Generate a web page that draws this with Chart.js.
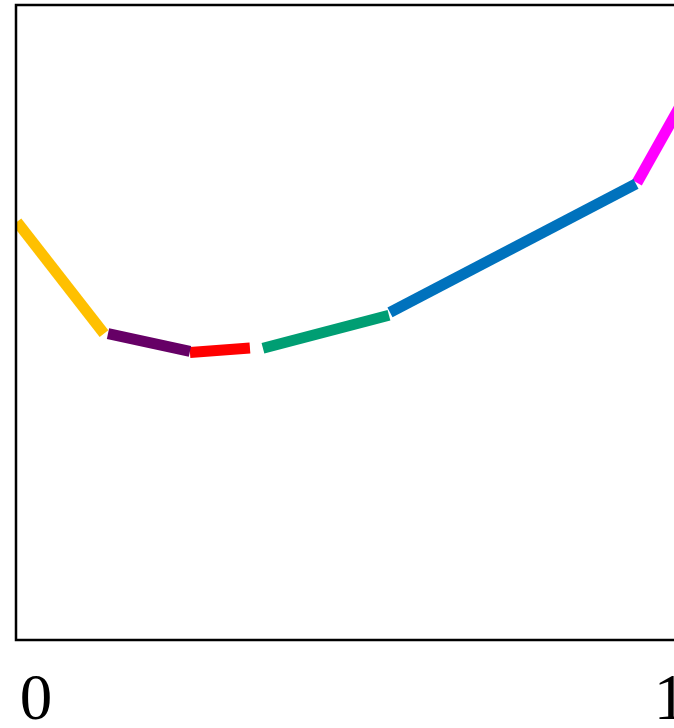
<!DOCTYPE html>
<html>
<head>
<meta charset="utf-8">
<script src="https://cdn.jsdelivr.net/npm/chart.js@4.4.1/dist/chart.umd.min.js"></script>
<style>
  html, body { margin: 0; padding: 0; background: #fff; overflow: hidden; }
  canvas { display: block; }
</style>
</head>
<body>
<canvas id="c" width="700" height="728" style="width:700px;height:728px"></canvas>
<script>
// Piecewise path: each stretch is its own coloured segment
const segmentColors = ['#FFC000', '#660066', '#FF0000', '#009E73', '#0072BD', '#FF00FF'];
const xStart = [-0.030, 0.1136, 0.2429, 0.3580, 0.5584, 0.9480];
const yStart = [ 0.6585, 0.4823, 0.4527, 0.4595, 0.5161, 0.7200];
const xEnd   = [ 0.1073, 0.2429, 0.3375, 0.5568, 0.9464, 1.0400];
const yEnd   = [ 0.4823, 0.4544, 0.4598, 0.5114, 0.7183, 0.8836];
const tickValues = [0, 1];

const X_MIN = -0.0315, X_MAX = 1.0474;
const Y_MIN = 0, Y_MAX = 1;

const datasets = segmentColors.map((color, i) => ({
  data: [{ x: xStart[i], y: yStart[i] }, { x: xEnd[i], y: yEnd[i] }],
  borderColor: color,
  borderWidth: 11,
  borderCapStyle: 'butt',
  pointRadius: 0,
  fill: false,
  tension: 0,
  clip: 0
}));

// Frame around the plotting area
const frame = {
  id: 'frame',
  afterDatasetsDraw(chart) {
    const { ctx, chartArea: a } = chart;
    ctx.save();
    ctx.strokeStyle = '#000';
    ctx.lineWidth = 2.5;
    ctx.strokeRect(a.left, a.top, a.right - a.left, a.bottom - a.top);
    ctx.restore();
  }
};

new Chart(document.getElementById('c'), {
  type: 'line',
  data: { datasets },
  options: {
    responsive: false,
    animation: false,
    layout: { padding: { left: 16, top: 5, right: 0, bottom: 0 } },
    plugins: { legend: { display: false }, tooltip: { enabled: false } },
    scales: {
      x: {
        type: 'linear',
        min: X_MIN,
        max: X_MAX,
        afterBuildTicks: s => { s.ticks = tickValues.map(v => ({ value: v })); },
        afterFit: s => { s.height = 88; s.paddingLeft = 0; s.paddingRight = 0; },
        grid: { display: false, drawTicks: true, tickLength: 23 },
        border: { display: false },
        ticks: {
          color: '#000',
          padding: 0,
          maxRotation: 0,
          autoSkip: false,
          font: { family: '"Liberation Serif", "Times New Roman", serif', size: 65 },
          callback: v => String(v)
        }
      },
      y: {
        display: false,
        min: Y_MIN,
        max: Y_MAX
      }
    }
  },
  plugins: [frame]
});
</script>
</body>
</html>
